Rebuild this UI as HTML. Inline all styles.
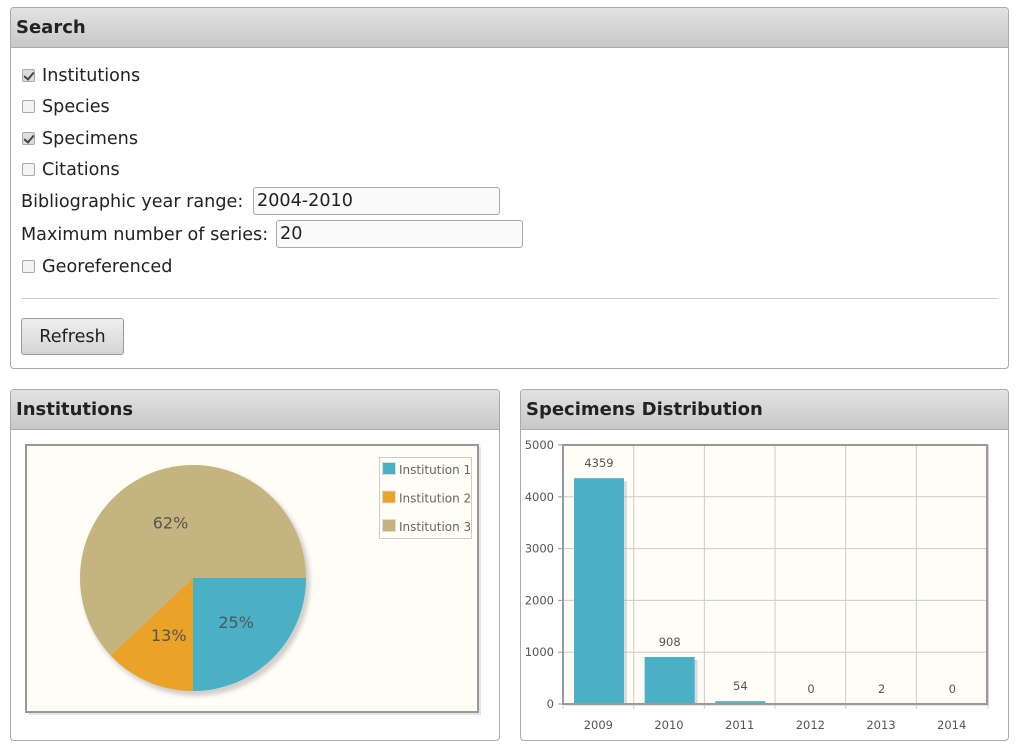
<!DOCTYPE html>
<html><head><meta charset="utf-8">
<style>
body{margin:0;width:1020px;height:747px;background:#fff;font-family:"DejaVu Sans","Liberation Sans",sans-serif;color:#222;position:relative;overflow:hidden}
.panel{position:absolute;border:1px solid #aaa;border-radius:4px;background:#fff;box-sizing:border-box}
.hdr{height:40px;background:linear-gradient(#e2e2e2,#c8c8c8);border-bottom:1px solid #aaa;border-radius:4px 4px 0 0;font-weight:bold;font-size:18px;line-height:40px;padding-left:5px;box-sizing:border-box}
.row{position:absolute;left:11px;font-size:17.6px;white-space:nowrap}
.cb{display:inline-block;width:11px;height:11px;border:1px solid #aaa;border-radius:2px;background:#f4f4f4;vertical-align:-1px;margin-right:7px;position:relative}
.cb.on{background:#ddd}
.cb.on:after{content:"";position:absolute;left:3px;top:0px;width:4px;height:8px;border:solid #444;border-width:0 2px 2px 0;transform:rotate(40deg)}
.inp{position:absolute;border:1px solid #aaa;border-radius:3px;background:#fafafa;font-size:17.6px;line-height:26px;padding-left:3px;box-sizing:border-box}
</style></head><body>
<div class="panel" style="left:10px;top:7px;width:999px;height:362px">
 <div class="hdr">Search</div>
 <div class="row" style="top:58px"><span class="cb on"></span>Institutions</div>
 <div class="row" style="top:89px"><span class="cb"></span>Species</div>
 <div class="row" style="top:121px"><span class="cb on"></span>Specimens</div>
 <div class="row" style="top:152px"><span class="cb"></span>Citations</div>
 <div class="row" style="top:184px;left:10px">Bibliographic year range:</div>
 <div class="inp" style="left:242px;top:179px;width:247px;height:28px">2004-2010</div>
 <div class="row" style="top:217px;left:10px">Maximum number of series:</div>
 <div class="inp" style="left:265px;top:212px;width:247px;height:28px">20</div>
 <div class="row" style="top:249px"><span class="cb"></span>Georeferenced</div>
 <div style="position:absolute;left:10px;top:290px;width:977px;height:1px;background:#ccc"></div>
 <div style="position:absolute;left:10px;top:310px;width:103px;height:37px;border:1px solid #999;border-radius:3px;background:linear-gradient(#f0f0f0,#d4d4d4);box-sizing:border-box;font-size:17.6px;text-align:center;line-height:37px">Refresh</div>
</div>

<div class="panel" style="left:10px;top:389px;width:490px;height:352px">
 <div class="hdr">Institutions</div>
</div>
<div class="panel" style="left:520px;top:389px;width:489px;height:352px">
 <div class="hdr">Specimens Distribution</div>
</div>

<svg id="pie" width="1020" height="747" style="position:absolute;left:0;top:0" font-family="DejaVu Sans, Liberation Sans, sans-serif">
 <defs><filter id="sh" x="-20%" y="-20%" width="140%" height="140%"><feGaussianBlur stdDeviation="2"/></filter></defs>
 <rect x="28" y="447" width="453" height="268" fill="#ccc" opacity="0.5"/>
 <rect x="26" y="445" width="452" height="267" fill="#fffdf6" stroke="#999" stroke-width="2"/>
 <g id="pieG"></g>
 <g id="legG"></g>
</svg>
<svg id="bar" width="1020" height="747" style="position:absolute;left:0;top:0" font-family="DejaVu Sans, Liberation Sans, sans-serif">
 <g id="barG"></g>
</svg>
<script>
const pieLabels=["Institution 1","Institution 2","Institution 3"];
const pieValues=[25,13,62];
const pieColors=["#4ab0c5","#eaa228","#c5b47f"];
const years=["2009","2010","2011","2012","2013","2014"];
const counts=[4359,908,54,0,2,0];
const yTicks=[0,1000,2000,3000,4000,5000];
const NS="http://www.w3.org/2000/svg";
function mk(p,t,a){const e=document.createElementNS(NS,t);for(const k in a)e.setAttribute(k,a[k]);p.appendChild(e);return e;}
(function(){
 const g=document.getElementById('pieG'),cx=193,cy=578,r=113;
 const tot=pieValues.reduce((a,b)=>a+b,0);
 const s=mk(g,'circle',{cx:cx+3,cy:cy+4,r:r+1,fill:'#999',opacity:0.45,filter:'url(#sh)'});
 
 let a0=0;
 pieValues.forEach((v,i)=>{
  const a1=a0+v/tot*2*Math.PI;
  const x0=cx+r*Math.cos(a0),y0=cy+r*Math.sin(a0),x1=cx+r*Math.cos(a1),y1=cy+r*Math.sin(a1);
  const p=mk(g,'path',{d:`M${cx},${cy}L${x0},${y0}A${r},${r} 0 ${a1-a0>Math.PI?1:0} 1 ${x1},${y1}Z`,fill:pieColors[i]});
  
  
  const am=(a0+a1)/2,lr=r*0.54;
  const t=mk(g,'text',{x:cx+lr*Math.cos(am),y:cy+lr*Math.sin(am)+7,'text-anchor':'middle','font-size':16,fill:'#555'});
  t.textContent=Math.round(v/tot*100)+'%';
  
  
  a0=a1;
 });
 const L=document.getElementById('legG');
 const lb=mk(L,'rect',{x:379.5,y:457.5,width:92,height:81,fill:'#fffdf6',stroke:'#ccc'});
 
 pieLabels.forEach((n,i)=>{
  const y=462+i*28.5;
  mk(L,'rect',{x:382.5,y:y+0.5,width:13,height:12,fill:pieColors[i],stroke:'#ddd'});
  const t=mk(L,'text',{x:399,y:y+12,'font-size':12,fill:'#666'});t.textContent=n;
  
  
 });
})();
(function(){
 const g=document.getElementById('barG');
 const L=563,R=987,T=445,B=704,ymax=5000;
 const Y=v=>B-(v/ymax)*(B-T);
 const cw=(R-L)/years.length;
 const X=i=>L+i*cw;
 mk(g,'rect',{x:L+2,y:T+2,width:R-L,height:B-T,fill:'#ccc',opacity:0.5});
 mk(g,'rect',{x:L,y:T,width:R-L,height:B-T,fill:'#fffdf6'});
 yTicks.forEach(v=>{
  mk(g,'line',{x1:L,x2:R,y1:Y(v),y2:Y(v),stroke:'#ccc'});
  mk(g,'line',{x1:L-5,x2:L,y1:Y(v),y2:Y(v),stroke:'#999'});
  const t=mk(g,'text',{x:L-9,y:Y(v)+4,'text-anchor':'end','font-size':11.5,fill:'#555'});t.textContent=v;
  
 });
 years.forEach((y,i)=>{
  if(i>0)mk(g,'line',{x1:X(i),x2:X(i),y1:T,y2:B,stroke:'#ccc'});
  mk(g,'line',{x1:X(i),x2:X(i),y1:B,y2:B+5,stroke:'#ccc'});
  const t=mk(g,'text',{x:X(i)+cw/2,y:B+25,'text-anchor':'middle','font-size':11.5,fill:'#555'});t.textContent=y;
  
  const v=counts[i],bx=X(i)+11,bw=50;
  if(v>0){
   mk(g,'rect',{x:bx+3,y:Y(v)+3,width:bw,height:B-Y(v)-3,fill:'#aaa',opacity:0.4});
   const b=mk(g,'rect',{x:bx,y:Y(v),width:bw,height:B-Y(v),fill:'#4ab0c5'});
   
   
  }
  const vt=mk(g,'text',{x:bx+bw/2,y:Y(v)-11,'text-anchor':'middle','font-size':11.5,fill:'#555'});vt.textContent=v;
  
 });
 mk(g,'line',{x1:R+1,x2:R+1,y1:T,y2:B+5,stroke:'#ccc'});
 mk(g,'rect',{x:L,y:T,width:R-L,height:B-T,fill:'none',stroke:'#999','stroke-width':2});
})();
</script>
</body></html>
